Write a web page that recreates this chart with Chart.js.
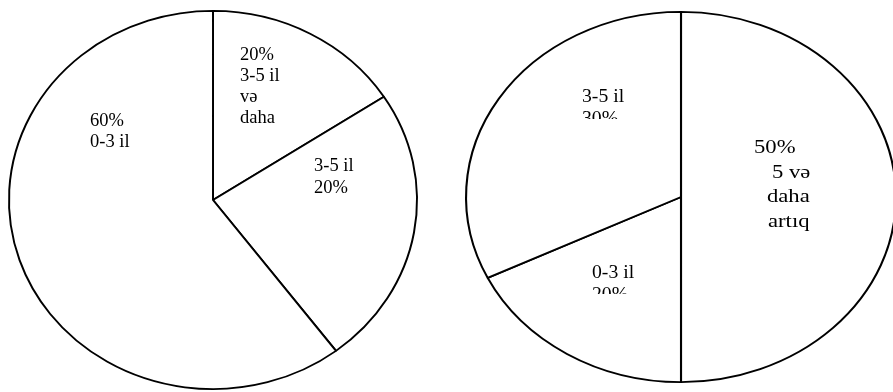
<!DOCTYPE html>
<html>
<head>
<meta charset="utf-8">
<script src="https://cdn.jsdelivr.net/npm/chart.js@4/dist/chart.umd.min.js"></script>
<style>
    html, body { margin: 0; padding: 0; background: #ffffff; overflow: hidden; }
    body { width: 893px; height: 392px; position: relative; }
    canvas { position: absolute; top: 0; }
    #leftPie { left: 0; }
    #rightPie { left: 447px; }
</style>
</head>
<body>
<canvas id="leftPie" width="446" height="400"></canvas>
<canvas id="rightPie" width="446" height="400"></canvas>
<script>
const leftCategories = ['3-5 il və daha', '3-5 il', '0-3 il'];
const leftValues = [15.8, 23.9, 60.3];
const leftLabels = [['20%', '3-5 il', 'və', 'daha'], ['3-5 il', '20%'], ['60%', '0-3 il']];

const rightCategories = ['5 və daha artıq', '0-3 il', '3-5 il'];
const rightValues = [50, 17.8, 32.2];
const rightLabels = [['50%', '5 və', 'daha', 'artıq'], ['0-3 il', '20%'], ['3-5 il', '30%']];

const serif = '"Liberation Serif", "Times New Roman", serif';

/**
 * Stretch the pie horizontally into an ellipse around its centre
 */
const ellipsePlugin = {
    id: 'ellipse',
    beforeDatasetsDraw(chart, args, opts) {
        const arc = chart.getDatasetMeta(0).data[0];
        const ctx = chart.ctx;
        ctx.save();
        ctx.translate(arc.x, arc.y);
        ctx.scale(opts.sx, 1);
        ctx.translate(-arc.x, -arc.y);
    },
    afterDatasetsDraw(chart) {
        chart.ctx.restore();
    }
};

/**
 * Draw the text boxes inside the slices
 */
const sliceLabelsPlugin = {
    id: 'sliceLabels',
    afterDraw(chart, args, opts) {
        const ctx = chart.ctx;
        opts.lines.forEach((lines, i) => {
            const box = opts.boxes[i];
            ctx.save();
            if (box.clip) {
                ctx.beginPath();
                ctx.rect(0, 0, chart.width, box.clip);
                ctx.clip();
            }
            ctx.fillStyle = '#000000';
            ctx.font = box.size + 'px ' + serif;
            ctx.textBaseline = 'alphabetic';
            lines.forEach((line, j) => {
                const x = Array.isArray(box.x) ? box.x[j] : box.x;
                ctx.save();
                ctx.translate(x, box.y + j * box.pitch);
                ctx.scale(box.stretch || 1, 1);
                ctx.fillText(line, 0, 0);
                ctx.restore();
            });
            ctx.restore();
        });
    }
};

function makePie(id, categories, values, labels, padding, sx, boxes) {
    const ctx = document.getElementById(id);
    return new Chart(ctx, {
        type: 'pie',
        data: {
            labels: categories,
            datasets: [{
                data: values,
                backgroundColor: '#ffffff',
                borderColor: '#000000',
                borderWidth: 1.8,
                clip: false
            }]
        },
        options: {
            responsive: false,
            animation: false,
            events: [],
            layout: { padding: padding },
            plugins: {
                legend: { display: false },
                tooltip: { enabled: false },
                ellipse: { sx: sx },
                sliceLabels: { lines: labels, boxes: boxes }
            }
        },
        plugins: [ellipsePlugin, sliceLabelsPlugin]
    });
}

makePie('leftPie', leftCategories, leftValues, leftLabels,
    { left: 23, right: 43, top: 10, bottom: 10 }, 205 / 190, [
        { x: 240, y: 60, pitch: 21, size: 18.5 },
        { x: 314, y: 171, pitch: 22, size: 18.5 },
        { x: 90, y: 126, pitch: 21, size: 18.5 }
    ]);

makePie('rightPie', rightCategories, rightValues, rightLabels,
    { left: 48, right: 26, top: 11, bottom: 17 }, 216 / 186, [
        { x: [307, 325, 320, 321], y: 153, pitch: 24.7, size: 19.7, stretch: 1.15 },
        { x: 145, y: 278, pitch: 22, size: 19.7, clip: 294 },
        { x: 135, y: 102, pitch: 22, size: 19.7, clip: 119 }
    ]);
</script>
</body>
</html>
